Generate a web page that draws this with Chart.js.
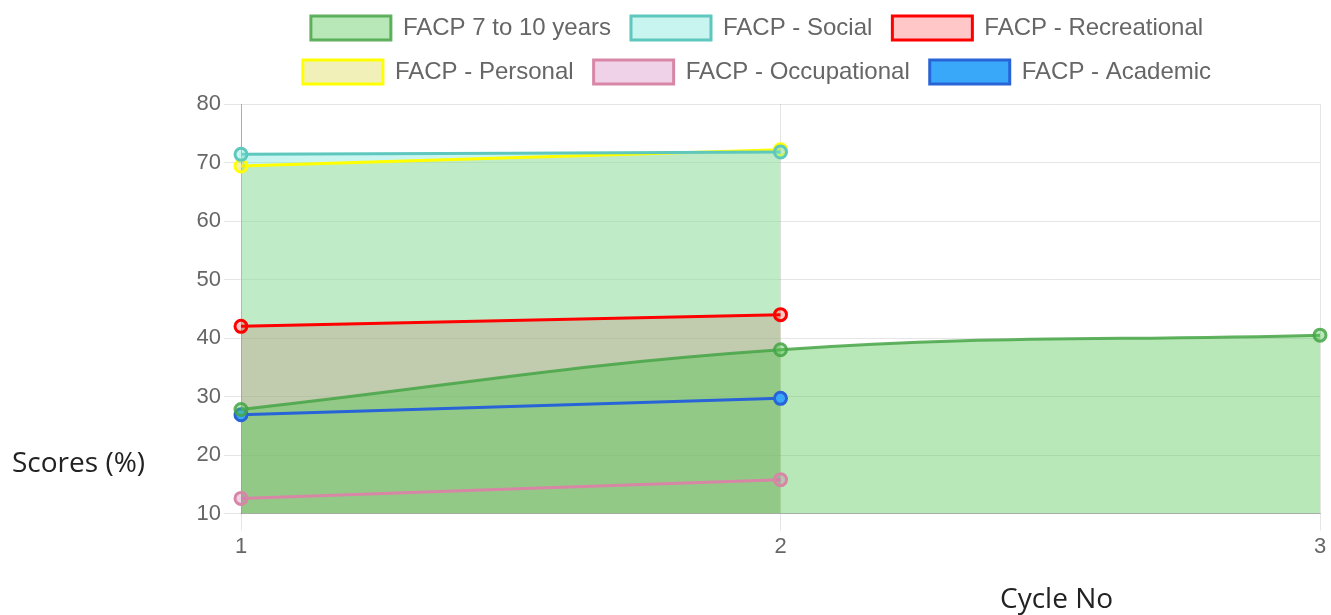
<!DOCTYPE html>
<html>
<head>
<meta charset="utf-8">
<script src="https://cdn.jsdelivr.net/npm/chart.js@4.4.0/dist/chart.umd.min.js"></script>
<style>
body { margin: 0; background: #fff; }
#wrap { position: relative; width: 1331px; height: 615px; overflow: hidden; }
#myChart { position: absolute; left: 0; top: -4px; }
.axisTitle { position: absolute; font-family: "Open Sans", "Noto Sans", sans-serif; font-size: 28px; color: #222; white-space: nowrap; line-height: 36px; }
</style>
</head>
<body>
<div id="wrap">
  <canvas id="myChart" width="1331" height="619"></canvas>
  <div class="axisTitle" id="yTitle" style="left:12px; top:443px;">Scores (%)</div>
  <div class="axisTitle" id="xTitle" style="left:1000px; top:579px;">Cycle No</div>
</div>
<script>
// cycles on the x axis
var cycles = ['1', '2', '3'];

// scores per cycle
var facp7to10 = [27.8, 38.0, 40.5];
var social = [71.4, 71.8];
var recreational = [42.0, 44.0];
var personal = [69.4, 72.2];
var occupational = [12.6, 15.8];
var academic = [26.9, 29.7];

var yMin = 10;
var yMax = 80;
var yStep = 10;

ready = (callback) => {
    if (document.readyState != "loading") callback();
    else document.addEventListener("DOMContentLoaded", callback);
}

ready(() => {
    Chart.defaults.font.family = "'Liberation Sans', Arial, sans-serif";
    Chart.defaults.font.size = 22;
    Chart.defaults.color = '#666';

    // push the plot a bit lower under the legend
    var legendGap = {
        id: 'legendGap',
        beforeInit: function(chart) {
            var fit = chart.legend.fit;
            chart.legend.fit = function() {
                fit.bind(chart.legend)();
                this.height += 10;
            }
        }
    };

    function line(label, data, border, bg, fill) {
        return {
            label: label,
            data: data,
            borderColor: border,
            backgroundColor: bg,
            fill: fill,
            borderWidth: 3,
            pointRadius: 6,
            pointBorderWidth: 3,
            tension: 0.4
        };
    }

    var ctx = document.getElementById('myChart').getContext('2d');
    var chart = new Chart(ctx, {
        type: 'line',
        data: {
            labels: cycles,
            datasets: [
                line('FACP 7 to 10 years', facp7to10, 'rgba(70,165,70,0.85)', 'rgba(78,198,78,0.4)', 'origin'),
                line('FACP - Social', social, 'rgb(95,200,190)', 'rgba(118,230,218,0.4)', 'origin'),
                line('FACP - Recreational', recreational, 'rgb(255,0,0)', 'rgba(255,0,0,0.22)', 'origin'),
                line('FACP - Personal', personal, 'rgb(255,255,0)', 'rgba(200,200,0,0.28)', 'origin'),
                line('FACP - Occupational', occupational, 'rgb(215,135,165)', 'rgba(205,105,178,0.3)', false),
                line('FACP - Academic', academic, 'rgb(40,100,215)', 'rgb(58,168,248)', false)
            ]
        },
        options: {
            responsive: false,
            animation: false,
            layout: {
                padding: { left: 194, right: 11, top: 0, bottom: 52 }
            },
            plugins: {
                filler: { drawTime: 'beforeDatasetsDraw' },
                legend: {
                    position: 'top',
                    labels: {
                        boxWidth: 80,
                        boxHeight: 24,
                        padding: 20,
                        color: '#666',
                        font: { size: 24 }
                    }
                },
                tooltip: { enabled: false }
            },
            scales: {
                x: {
                    offset: false,
                    grid: { color: 'rgba(0,0,0,0.1)', tickLength: 17 },
                    border: { color: 'rgba(0,0,0,0.25)' },
                    ticks: { padding: 3 }
                },
                y: {
                    min: yMin,
                    max: yMax,
                    grid: { color: 'rgba(0,0,0,0.1)', tickLength: 17 },
                    border: { color: 'rgba(0,0,0,0.25)' },
                    ticks: { stepSize: yStep, padding: 3 },
                    afterFit: function(scale) { scale.width = 47; }
                }
            }
        },
        plugins: [legendGap]
    });
})
</script>
</body>
</html>
